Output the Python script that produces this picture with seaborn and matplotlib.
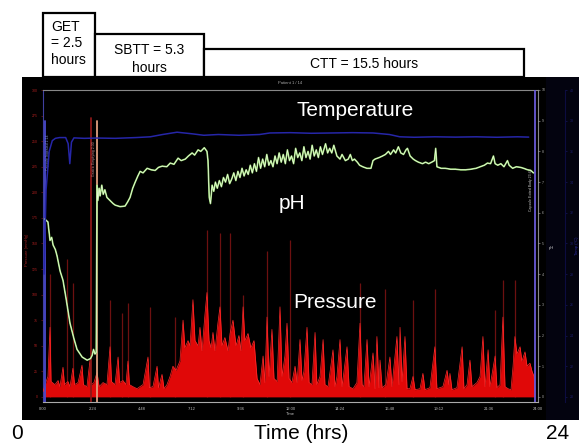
import numpy as np
import pandas as pd
import matplotlib
matplotlib.use("Agg")
import matplotlib.pyplot as plt
import seaborn as sns
import matplotlib.transforms as mtransforms
from matplotlib.patches import Rectangle
from matplotlib.text import Text

# ---------------- data ----------------
phases = ["GET", "SBTT", "CTT"]
phase_hours = [2.5, 5.3, 15.5]

# pH trace (hours, pH)
ph_time = [0.08, 0.24, 0.34, 0.42, 0.49, 0.6, 0.68, 0.83, 0.97, 1.12, 1.31, 1.5, 1.65, 1.9, 2.14, 2.3,
           2.38, 2.45, 2.52, 2.58, 2.62, 2.66, 2.72, 2.77, 2.85, 2.92, 3.0, 3.1, 3.25, 3.4, 3.5, 3.74,
           3.98, 4.1, 4.22, 4.35, 4.47, 4.6, 4.71, 4.85, 5.05, 5.25, 5.44, 5.6, 5.78, 6.0, 6.17, 6.35,
           6.55, 6.7, 6.9, 7.05, 7.23, 7.35, 7.52, 7.65, 7.82, 7.95, 8.0, 8.06, 8.12, 8.2, 8.28, 8.36,
           8.45, 8.55, 8.65, 8.75, 8.85, 8.95, 9.05, 9.15, 9.25, 9.35, 9.45, 9.55, 9.65, 9.75, 9.85,
           9.95, 10.05, 10.15, 10.25, 10.35, 10.45, 10.55, 10.65, 10.75, 10.85, 10.95, 11.05, 11.15,
           11.25, 11.35, 11.45, 11.55, 11.65, 11.75, 11.85, 11.95, 12.05, 12.15, 12.25, 12.35, 12.45,
           12.55, 12.65, 12.75, 12.85, 12.95, 13.05, 13.15, 13.25, 13.35, 13.45, 13.55, 13.7, 13.8,
           13.9, 14.0, 14.1, 14.25, 14.4, 14.5, 14.66, 14.8, 14.9, 15.0, 15.1, 15.24, 15.35, 15.5,
           15.7, 15.9, 16.0, 16.1, 16.3, 16.46, 16.6, 16.75, 16.85, 17.0, 17.1, 17.23, 17.35, 17.48,
           17.6, 17.67, 17.8, 17.95, 18.06, 18.2, 18.4, 18.55, 18.7, 18.85, 18.98, 19.04, 19.1, 19.3,
           19.5, 19.76, 20.0, 20.25, 20.5, 20.75, 21.0, 21.2, 21.4, 21.55, 21.7, 21.84, 21.92, 22.05,
           22.2, 22.35, 22.52, 22.6, 22.77, 22.95, 23.15, 23.3, 23.5, 23.65, 23.78]
ph_value = [5.8, 5.7, 5.1, 5.2, 4.95, 4.8, 4.6, 4.1, 3.8, 3.2, 2.4, 1.9, 1.55, 1.3, 1.2, 1.25,
            1.35, 1.55, 1.4, 1.45, 6.9, 6.4, 6.8, 6.55, 6.9, 6.6, 6.75, 6.5, 6.4, 6.3, 6.25, 6.2,
            6.22, 6.35, 6.5, 6.8, 7.0, 7.2, 7.35, 7.3, 7.45, 7.4, 7.38, 7.48, 7.52, 7.5, 7.62, 7.58,
            7.78, 7.7, 7.75, 7.85, 7.95, 7.88, 8.05, 8.0, 8.12, 8.0, 7.7, 6.5, 6.3, 6.9, 6.7, 7.0,
            6.8, 7.05, 6.85, 7.15, 7.0, 7.25, 6.95, 7.1, 7.3, 7.05, 7.35, 7.15, 7.45, 7.2, 7.4,
            7.25, 7.55, 7.3, 7.6, 7.35, 7.8, 7.45, 7.75, 7.5, 7.9, 7.55, 7.7, 7.5,
            7.85, 7.6, 7.95, 7.65, 7.9, 7.6, 8.05, 7.7, 7.85, 7.6, 8.1, 7.8, 7.95,
            7.7, 8.15, 7.8, 8.0, 7.75, 8.2, 7.85, 8.05, 7.8, 8.15, 7.9, 8.25, 7.95,
            8.1, 7.95, 8.2, 7.85, 7.75, 7.9, 7.7, 7.75, 7.9, 7.7, 7.75, 7.65, 7.55, 7.5,
            7.45, 7.45, 7.7, 7.75, 7.8, 7.85, 7.9, 8.0, 7.9, 8.05, 7.95, 8.15, 7.95, 7.9,
            8.05, 8.1, 7.85, 7.75, 7.7, 7.65, 7.6, 7.65, 7.6, 7.65, 7.7, 8.1, 7.5, 7.45,
            7.45, 7.42, 7.42, 7.4, 7.4, 7.42, 7.45, 7.5, 7.55, 7.62, 7.6, 7.85, 7.6, 7.55,
            7.6, 7.5, 7.7, 7.55, 7.45, 7.5, 7.48, 7.45, 7.4, 7.38, 7.3]

# temperature trace (hours, deg C)
temp_time = [0.05, 0.15, 0.3, 0.45, 0.6, 0.8, 1.1, 1.22, 1.3, 1.38, 1.5, 2.0, 2.6, 3.5, 4.5, 5.2, 5.8,
             6.5, 7.2, 7.8, 8.5, 9.5, 10.5, 11.0, 12.0, 13.0, 14.0, 15.0, 16.0, 16.8, 17.3, 18.0,
             19.0, 20.0, 21.0, 22.0, 23.0, 23.55]
temp_value = [28.0, 33.5, 36.0, 36.7, 36.85, 36.9, 36.9, 36.5, 35.2, 36.6, 36.88, 36.85, 36.87, 36.85,
              36.9, 36.95, 37.1, 37.25, 37.15, 37.05, 37.1, 37.05, 37.1, 37.2, 37.22, 37.18, 37.2,
              37.22, 37.2, 37.1, 36.95, 36.92, 36.95, 36.93, 36.95, 36.92, 36.95, 36.93]

# pressure envelope (hours, mmHg)
press_time = [0.0, 0.1, 0.24, 0.34, 0.39, 0.58, 0.73, 0.82, 0.97, 1.04, 1.21, 1.31, 1.45, 1.53, 1.7,
              1.89, 1.96, 2.13, 2.28, 2.35, 2.47, 2.62, 2.72, 2.91, 3.1, 3.25, 3.32, 3.49, 3.64, 3.71,
              3.88, 4.02, 4.12, 4.19, 4.36, 4.56, 4.7, 4.85, 5.09, 5.16, 5.33, 5.53, 5.6, 5.77, 5.87,
              6.01, 6.16, 6.3, 6.45, 6.64, 6.79, 6.88, 7.03, 7.13, 7.27, 7.37, 7.52, 7.61, 7.71, 7.85,
              7.95, 8.05, 8.15, 8.24, 8.34, 8.48, 8.58, 8.68, 8.82, 8.97, 9.07, 9.21, 9.36, 9.5, 9.6,
              9.7, 9.79, 9.94, 10.08, 10.23, 10.38, 10.52, 10.67, 10.76, 10.86, 10.96, 11.1, 11.2,
              11.35, 11.49, 11.59, 11.73, 11.83, 11.93, 12.07, 12.22, 12.32, 12.46, 12.56, 12.65,
              12.8, 12.9, 13.04, 13.19, 13.28, 13.43, 13.58, 13.67, 13.82, 14.06, 14.16, 14.25, 14.4,
              14.5, 14.74, 14.84, 15.03, 15.22, 15.37, 15.47, 15.56, 15.71, 15.81, 16.0, 16.1, 16.19,
              16.29, 16.34, 16.44, 16.63, 16.82, 16.92, 17.16, 17.26, 17.31, 17.41, 17.55, 17.65,
              17.79, 17.94, 18.04, 18.28, 18.42, 18.52, 18.76, 19.0, 19.1, 19.39, 19.59, 19.68, 19.73,
              19.83, 20.07, 20.32, 20.41, 20.56, 20.7, 20.8, 21.04, 21.19, 21.33, 21.43, 21.58, 21.67,
              21.92, 22.01, 22.16, 22.3, 22.4, 22.55, 22.69, 22.79, 22.88, 22.98, 23.13, 23.22, 23.37,
              23.47, 23.61, 23.71, 23.81, 23.85]
press_value = [5, 12, 20, 68, 15, 12, 16, 10, 29, 12, 15, 10, 28, 12, 14,
               31, 12, 10, 36, 12, 14, 24, 10, 14, 12, 49, 15, 12, 39, 14,
               16, 12, 35, 12, 10, 8, 10, 12, 39, 9, 10, 30, 9, 22, 8,
               12, 20, 30, 26, 35, 75, 48, 55, 50, 95, 55, 50, 68, 45, 80,
               102, 55, 48, 63, 45, 72, 88, 50, 58, 45, 62, 75, 50, 60, 45,
               88, 55, 62, 48, 55, 18, 12, 40, 14, 78, 20, 66, 18,
               15, 88, 20, 40, 72, 18, 14, 30, 14, 56, 16, 25,
               68, 14, 12, 63, 12, 20, 56, 12, 10, 46, 10, 20, 56,
               10, 49, 10, 8, 14, 72, 12, 10, 56, 10, 43, 8, 59,
               9, 36, 9, 12, 39, 10, 59, 12, 68, 15, 59, 8,
               8, 20, 7, 8, 23, 7, 9, 49, 8, 10, 26, 12, 23,
               7, 9, 49, 8, 12, 36, 10, 14, 20, 59, 10, 46, 10,
               40, 9, 12, 78, 10, 8, 7, 30, 59, 42, 49, 35, 44,
               30, 33, 25, 20, 5]

# tall narrow contraction spikes (hours, mmHg)
spike_time = [0.34, 1.16, 1.45, 3.25, 3.83, 4.12, 5.19, 6.4, 7.95, 8.58, 9.07, 9.7, 10.86, 11.98,
              15.37, 16.58, 17.94, 19.0, 21.92, 22.3, 22.88]
spike_value = [120, 135, 111, 95, 82, 92, 88, 78, 163, 160, 160, 100, 143, 153,
               111, 105, 95, 105, 85, 114, 114]

# event markers (hours)
event_time = [0.08, 2.33, 2.62, 23.85]
event_color = ["#4a4ad0", "#8a1818", "#e0a080", "#6a5ad8"]
event_top = [0.90, 0.91, 0.90, 1.0]

xtick_hours = [0, 2.4, 4.8, 7.2, 9.6, 12, 14.4, 16.8, 19.2, 21.6, 24]
xtick_labels = ["0:00", "2:24", "4:48", "7:12", "9:36", "12:00", "14:24", "16:48", "19:12", "21:36", "24:00"]

# ---------------- style ----------------
sns.set_style("white")
plt.rcParams['font.family'] = ['Liberation Sans', 'DejaVu Sans']

W, H = 579, 444
fig = plt.figure(figsize=(W / 100, H / 100), dpi=100)
fig.patch.set_facecolor("white")


def fr(x0, y0, x1, y1):
    return [x0 / W, 1 - y1 / H, (x1 - x0) / W, (y1 - y0) / H]


def fx(x):
    return x / W


def fy(y):
    return 1 - y / H


# black screen background
bg = fig.add_axes(fr(22, 77, 579, 420))
bg.set_facecolor("black")
bg.set_xticks([]); bg.set_yticks([])
for s in bg.spines.values():
    s.set_visible(False)
bg.add_patch(Rectangle((0.94, 0.0), 0.06, 1.0, transform=bg.transAxes, color="#03030f", lw=0))

# main axes (pressure)
ax = fig.add_axes(fr(43, 90, 538, 402))
ax.set_facecolor("none")
ax.set_xlim(0, 24)
ax.set_ylim(-5, 300)

press_df = pd.DataFrame({"t": press_time, "p": press_value})
ax.vlines(spike_time, 0, spike_value, color="#7a1212", lw=0.9, alpha=0.9, zorder=1)
ax.fill_between(press_df["t"], 0, press_df["p"], color="#e00808", lw=0, zorder=2)
sns.lineplot(data=press_df, x="t", y="p", ax=ax, color="#ff2a2a", lw=0.5, zorder=3)

for t, c, top in zip(event_time, event_color, event_top):
    ax.axvline(t, ymin=0.0, ymax=top, color=c, lw=1.3, zorder=4)

ax.set_xticks(xtick_hours)
ax.set_xticklabels(xtick_labels, fontsize=3, color="#bbbbbb")
ax.set_xticks(np.arange(0, 24.01, 1.2), minor=True)
ax.tick_params(axis="x", which="both", colors="#bbbbbb", length=2, width=0.5, pad=1.5, labelcolor="#bbbbbb")
ax.set_yticks(np.arange(0, 301, 25))
ax.set_yticklabels([str(v) for v in range(0, 301, 25)], fontsize=2.5, color="#b02020")
ax.tick_params(axis="y", colors="#902020", length=1.5, width=0.4, pad=2, labelcolor="#b02020")
ax.set_xlabel("Time", fontsize=3, color="#bbbbbb", labelpad=0.5)
ax.set_ylabel("")
for side, col in [("top", "#888888"), ("bottom", "#aaaaaa"), ("left", "#4040a0"), ("right", "#888888")]:
    ax.spines[side].set_color(col)
    ax.spines[side].set_linewidth(0.8)

# pH axis
ax2 = ax.twinx()
ax2.set_ylim(-0.163, 10)
ph_df = pd.DataFrame({"t": ph_time, "ph": ph_value})
sns.lineplot(data=ph_df, x="t", y="ph", ax=ax2, color="#98d870", lw=1.2, zorder=5)
sns.lineplot(data=ph_df, x="t", y="ph", ax=ax2, color="#f2fde8", lw=0.45, zorder=6)
ax2.set_yticks(range(0, 11))
ax2.set_yticklabels([str(v) for v in range(0, 11)], fontsize=2.5, color="#bbbbbb")
ax2.tick_params(axis="y", colors="#aaaaaa", length=1.5, width=0.4, pad=1.5)
ax2.set_ylabel("pH", fontsize=3, color="#cccccc", rotation=0, labelpad=4)
for s in ax2.spines.values():
    s.set_visible(False)

# temperature axis
ax3 = ax.twinx()
ax3.set_ylim(19.67, 40)
temp_df = pd.DataFrame({"t": temp_time, "temp": temp_value})
sns.lineplot(data=temp_df, x="t", y="temp", ax=ax3, color="#2626a8", lw=1.1, zorder=4)
ax3.spines["right"].set_position(("axes", 1.055))
for s in ["top", "bottom", "left"]:
    ax3.spines[s].set_visible(False)
ax3.spines["right"].set_color("#0c0c40")
ax3.set_yticks(range(20, 41, 2))
ax3.set_yticklabels([str(v) for v in range(20, 41, 2)], fontsize=2.5, color="#2828a0")
ax3.tick_params(axis="y", colors="#1c1c70", length=1.5, width=0.4, pad=1.5)
ax3.set_ylabel("Temp (°C)", fontsize=3, color="#2828a0", labelpad=1)
for a in (ax2, ax3):
    a.set_xlabel("")
    a.set_facecolor("none")

# small screen annotations
fig.text(fx(290), fy(83), "Patient 1 / 14", fontsize=3, color="#aaaaaa", ha="center", va="center")
fig.text(fx(27), fy(250), "Pressure (mmHg)", fontsize=3, color="#a02020", rotation=90, ha="center", va="center")
xform = ax.get_xaxis_transform()
ax.text(0.25, 0.80, "Capsule Ingested 1:14", transform=xform, fontsize=2.5, color="#8090d0",
        rotation=90, ha="center", va="center", zorder=7)
ax.text(2.48, 0.78, "Gastric Emptying 2:30", transform=xform, fontsize=2.5, color="#d09090",
        rotation=90, ha="center", va="center", zorder=7)
ax.text(23.65, 0.68, "Capsule Exited Body 23:48", transform=xform, fontsize=2.5, color="#c8c8c8",
        rotation=90, ha="center", va="center", zorder=7)

# big overlay labels
fig.text(fx(355), fy(110), "Temperature", fontsize=15, color="white", ha="center", va="center")
fig.text(fx(292), fy(203), "pH", fontsize=15, color="white", ha="center", va="center")
fig.text(fx(335), fy(302), "Pressure", fontsize=15, color="white", ha="center", va="center")

# transit-time boxes on top (x in hours, y in figure)
btrans = mtransforms.blended_transform_factory(ax.transData, fig.transFigure)
starts = np.concatenate([[0], np.cumsum(phase_hours)[:-1]])
tops = [13, 34, 49]
for name, st, dur, top in zip(phases, starts, phase_hours, tops):
    r = Rectangle((st, fy(77)), dur, fy(top) - fy(77), transform=btrans, facecolor="white",
                  edgecolor="black", lw=1.6, clip_on=False, zorder=2)
    fig.add_artist(r)


def box_text(x, y, s, ha="center"):
    t = Text(x, y, s, transform=btrans, fontsize=10, color="black", ha=ha, va="center",
             fontfamily=['Liberation Sans', 'DejaVu Sans'], zorder=5)
    fig.add_artist(t)


box_text(starts[0] + 0.4, fy(27), f"{phases[0]}", ha="left")
box_text(starts[0] + 0.4, fy(43), f"= {phase_hours[0]}", ha="left")
box_text(starts[0] + 0.4, fy(60), "hours", ha="left")
c1 = starts[1] + phase_hours[1] / 2
c2 = starts[2] + phase_hours[2] / 2
box_text(c1, fy(50), f"{phases[1]} = {phase_hours[1]}")
box_text(c1, fy(68), "hours")
box_text(c2, fy(64), f"{phases[2]} = {phase_hours[2]} hours")

# bottom labels
fig.text(fx(17), fy(433), "0", fontsize=15, color="black", ha="center", va="center")
fig.text(fx(301), fy(433), "Time (hrs)", fontsize=15, color="black", ha="center", va="center")
fig.text(fx(558), fy(433), "24", fontsize=15, color="black", ha="center", va="center")

fig.savefig("out.png", dpi=100, facecolor="white")
